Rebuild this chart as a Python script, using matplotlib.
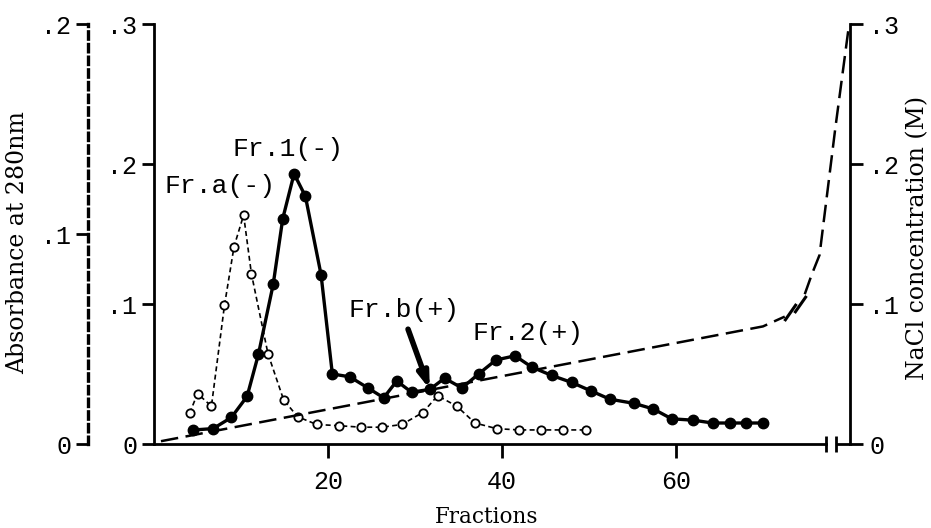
import matplotlib
matplotlib.use("Agg")
import matplotlib.pyplot as plt
import matplotlib.transforms as mtransforms

# ---------------- data ----------------
# Filled circles (Fr.1 / Fr.2), inner left axis (0 - .3)
filled_x = [4.5, 6.8, 8.9, 10.7, 12.0, 13.7, 14.8, 16.1, 17.4, 19.2, 20.5, 22.5,
            24.6, 26.4, 27.9, 29.6, 31.7, 33.4, 35.4, 37.3, 39.3, 41.5, 43.4,
            45.7, 48.0, 50.2, 52.4, 55.2, 57.4, 59.5, 62.0, 64.2, 66.2, 68.0, 70.0]
filled_y = [0.010, 0.011, 0.019, 0.034, 0.064, 0.114, 0.161, 0.193, 0.177, 0.121,
            0.050, 0.048, 0.040, 0.033, 0.045, 0.037, 0.039, 0.047, 0.040, 0.050,
            0.060, 0.063, 0.055, 0.049, 0.044, 0.038, 0.032, 0.029, 0.025, 0.018,
            0.017, 0.015, 0.015, 0.015, 0.015]

# Open circles (Fr.a / Fr.b), outer left axis (0 - .2)
open_x = [4.1, 5.0, 6.6, 8.1, 9.2, 10.3, 11.2, 13.1, 14.9, 16.5, 18.7, 21.3,
          23.8, 26.2, 28.5, 30.9, 32.6, 34.8, 36.9, 39.4, 42.0, 44.5, 47.0, 49.7]
open_y = [0.0147, 0.024, 0.018, 0.066, 0.094, 0.109, 0.081, 0.043, 0.021, 0.013,
          0.0093, 0.0087, 0.008, 0.008, 0.0093, 0.015, 0.023, 0.018, 0.010, 0.0073,
          0.0067, 0.0067, 0.0067, 0.0067]

# NaCl gradient (right axis, M), drawn in two pieces around the break
nacl_x1 = [0.8, 70.0, 72.5]
nacl_y1 = [0.002, 0.084, 0.091]
nacl_x2 = [74.8, 75.6, 76.5, 78.3, 79.9]
nacl_y2 = [0.107, 0.121, 0.135, 0.225, 0.300]

x_ticks = [20, 40, 60]
x_ticklabels = ["20", "40", "60"]
inner_ticks = [0, 0.1, 0.2, 0.3]
inner_ticklabels = ["0", ".1", ".2", ".3"]
outer_ticks = [0, 0.1, 0.2]
outer_ticklabels = ["0", ".1", ".2"]
right_ticks = [0, 0.1, 0.2, 0.3]
right_ticklabels = ["0", ".1", ".2", ".3"]

labels = ["Fr.1(-)", "Fr.a(-)", "Fr.b(+)", "Fr.2(+)"]
label_x = [15.4, 7.6, 28.7, 43.0]
label_y = [0.211, 0.184, 0.096, 0.079]
arrow_from = (29.2, 0.082)
arrow_to = (31.7, 0.039)
# --------------------------------------

mono = "Liberation Mono"
serif = "DejaVu Serif"
fs_tick = 18
fs_ann = 19

fig = plt.figure(figsize=(9.31, 5.28), dpi=100)
L, R, B, T = 154 / 931, 850 / 931, 1 - 444 / 528, 1 - 24 / 528
ax = fig.add_axes([L, B, R - L, T - B])
ax2 = ax.twinx()   # outer absorbance axis
ax3 = ax.twinx()   # NaCl axis

for a in (ax, ax2, ax3):
    a.set_xlim(0, 80)
    a.patch.set_visible(False)
    for s in a.spines.values():
        s.set_visible(False)

ax.set_ylim(0, 0.3)
ax2.set_ylim(0, 0.2)
ax3.set_ylim(0, 0.3)

# inner left axis
ax.spines["left"].set_visible(True)
ax.spines["left"].set_linewidth(2)
ax.spines["bottom"].set_visible(True)
ax.spines["bottom"].set_linewidth(2)
ax.spines["bottom"].set_bounds(0, 77.2)
ax.set_yticks(inner_ticks)
ax.set_yticklabels(inner_ticklabels, fontfamily=mono, fontsize=fs_tick)
ax.set_xticks(x_ticks)
ax.set_xticklabels(x_ticklabels, fontfamily=mono, fontsize=fs_tick)
ax.tick_params(axis="y", direction="out", length=9, width=2, pad=3)
ax.tick_params(axis="x", direction="out", length=10, width=2, pad=9)

# outer left axis (dashed)
ax2.spines["left"].set_visible(True)
ax2.spines["left"].set_position(("outward", 47.5))
ax2.spines["left"].set_linestyle((0, (2.2, 1.6)))
ax2.spines["left"].set_linewidth(2.4)
ax2.yaxis.set_ticks_position("left")
ax2.set_yticks(outer_ticks)
ax2.set_yticklabels(outer_ticklabels, fontfamily=mono, fontsize=fs_tick)
ax2.tick_params(axis="y", direction="out", length=9, width=2, pad=3)
ax2.tick_params(axis="x", bottom=False, labelbottom=False)

# right NaCl axis
ax3.spines["right"].set_visible(True)
ax3.spines["right"].set_linewidth(2)
ax3.set_yticks(right_ticks)
ax3.set_yticklabels(right_ticklabels, fontfamily=mono, fontsize=fs_tick)
ax3.tick_params(axis="y", direction="out", length=9, width=2, pad=5)
ax3.tick_params(axis="x", bottom=False, labelbottom=False)

# axis break on the x axis
btrans = mtransforms.blended_transform_factory(ax.transData, ax.transAxes)
ax.plot([78.4, 80], [0, 0], color="black", lw=2, transform=btrans, clip_on=False,
        solid_capstyle="butt")
ax.plot([77.2, 78.4], [0, 0], linestyle="none", marker="|", markersize=12,
        markeredgewidth=2, color="black", transform=btrans, clip_on=False)

# NaCl gradient
dash = (0, (7, 3))
ax3.plot(nacl_x1, nacl_y1, color="black", lw=1.8, linestyle=dash)
ax3.plot(nacl_x2, nacl_y2, color="black", lw=1.8, linestyle=dash)
ax3.plot([73.1, 74.3], [0.094, 0.100], linestyle="none", marker=(2, 0, -35),
         markersize=15, markeredgewidth=2.2, color="black")

# open circles (outer axis)
ax2.plot(open_x, open_y, color="black", lw=1.2, linestyle=(0, (3, 2)),
         marker="o", markersize=6, markerfacecolor="white",
         markeredgecolor="black", markeredgewidth=1.3, zorder=3)

# filled circles (inner axis)
ax.plot(filled_x, filled_y, color="black", lw=2.4, marker="o", markersize=7.5,
        markerfacecolor="black", zorder=4)

# annotations
for t, x, y in zip(labels, label_x, label_y):
    ax.text(x, y, t, fontfamily=mono, fontsize=fs_ann, ha="center", va="center")
ax.annotate("", xy=arrow_to, xytext=arrow_from,
            arrowprops=dict(arrowstyle="-|>,head_length=0.9,head_width=0.3",
                            lw=4, color="black", shrinkA=0, shrinkB=0))

# axis titles
fig.text(18 / 931, 1 - 243 / 528, "Absorbance at 280nm", rotation=90,
         fontfamily=serif, fontsize=17, ha="center", va="center")
fig.text(918 / 931, 1 - 238 / 528, "NaCl concentration (M)", rotation=90,
         fontfamily=serif, fontsize=17, ha="center", va="center")
fig.text(487 / 931, 1 - 517 / 528, "Fractions", fontfamily=serif, fontsize=15.5,
         ha="center", va="center")

fig.savefig("out.png", dpi=100)
